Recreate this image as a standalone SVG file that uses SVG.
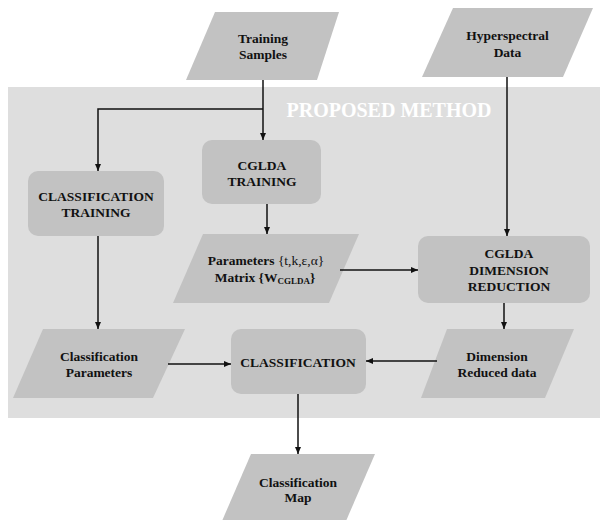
<svg xmlns="http://www.w3.org/2000/svg" width="600" height="520" viewBox="0 0 600 520">
<style>
.shape{fill:#c2c2c2;stroke:none}
.t{font-family:"Liberation Serif","Times New Roman",serif;font-weight:bold;font-size:13.5px;fill:#111;text-anchor:middle}
.sub{font-size:9px}
.c{fill:none;stroke:#111;stroke-width:1.5}
.title{font-family:"Liberation Serif","Times New Roman",serif;font-weight:bold;font-size:20px;fill:#ffffff;text-anchor:middle}
</style>
<defs>
<marker id="arr" markerUnits="userSpaceOnUse" markerWidth="7" markerHeight="6" refX="7" refY="3" orient="auto">
<path d="M0,0 L7,3 L0,6 z" fill="#111"/>
</marker>
</defs>
<rect id="proposed-method" x="8" y="87" width="600" height="331" fill="#dedede"/>
<text class="title" x="389" y="117">PROPOSED METHOD</text>

<g id="training-samples">
<polygon class="shape" points="215,12 339,12 317,80 186,80"/>
<text class="t" x="263" y="43">Training</text>
<text class="t" x="263" y="59">Samples</text>
</g>
<g id="hyperspectral-data">
<polygon class="shape" points="453,8 593,8 563,77 422,77"/>
<text class="t" x="507.5" y="40">Hyperspectral</text>
<text class="t" x="507.5" y="57">Data</text>
</g>
<g id="classification-training">
<rect class="shape" x="28" y="171" width="136" height="65" rx="10"/>
<text class="t" x="96" y="201">CLASSIFICATION</text>
<text class="t" x="96" y="217">TRAINING</text>
</g>
<g id="cglda-training">
<rect class="shape" x="202" y="140" width="119" height="64" rx="10"/>
<text class="t" x="262" y="170">CGLDA</text>
<text class="t" x="262" y="186">TRAINING</text>
</g>
<g id="parameters-matrix">
<polygon class="shape" points="203,234 359,234 329,303 173,303"/>
<text class="t" x="266" y="265">Parameters <tspan font-weight="normal">{t,k,ε,α}</tspan></text>
<text class="t" x="265" y="282">Matrix {W<tspan class="sub" dy="2">CGLDA</tspan><tspan dy="-2">}</tspan></text>
</g>
<g id="cglda-dimension-reduction">
<rect class="shape" x="418" y="236" width="172" height="67" rx="10"/>
<text class="t" x="509" y="258">CGLDA</text>
<text class="t" x="509" y="274.5">DIMENSION</text>
<text class="t" x="509" y="291">REDUCTION</text>
</g>
<g id="classification-parameters">
<polygon class="shape" points="43,329 185,329 153,398 13,398"/>
<text class="t" x="99" y="361">Classification</text>
<text class="t" x="99" y="377">Parameters</text>
</g>
<g id="classification">
<rect class="shape" x="231" y="329" width="135" height="65" rx="10"/>
<text class="t" x="298" y="366.5">CLASSIFICATION</text>
</g>
<g id="dimension-reduced-data">
<polygon class="shape" points="447,329 574,329 545,398 421,398"/>
<text class="t" x="497" y="361">Dimension</text>
<text class="t" x="497" y="377">Reduced data</text>
</g>
<g id="classification-map">
<polygon class="shape" points="251,454 375,454 346,521 222,521"/>
<text class="t" x="298" y="486.5">Classification</text>
<text class="t" x="298" y="502">Map</text>
</g>

<g id="connectors">
<path class="c" d="M263,80 V140" marker-end="url(#arr)"/>
<path class="c" d="M263,109 H98 V171" marker-end="url(#arr)"/>
<path class="c" d="M267,204 V234" marker-end="url(#arr)"/>
<path class="c" d="M507,77 V236" marker-end="url(#arr)"/>
<path class="c" d="M340,270 H418" marker-end="url(#arr)"/>
<path class="c" d="M98,236 V329" marker-end="url(#arr)"/>
<path class="c" d="M504,303 V329" marker-end="url(#arr)"/>
<path class="c" d="M168,364 H231" marker-end="url(#arr)"/>
<path class="c" d="M437,361 H366" marker-end="url(#arr)"/>
<path class="c" d="M298,394 V454" marker-end="url(#arr)"/>
</g>
</svg>
